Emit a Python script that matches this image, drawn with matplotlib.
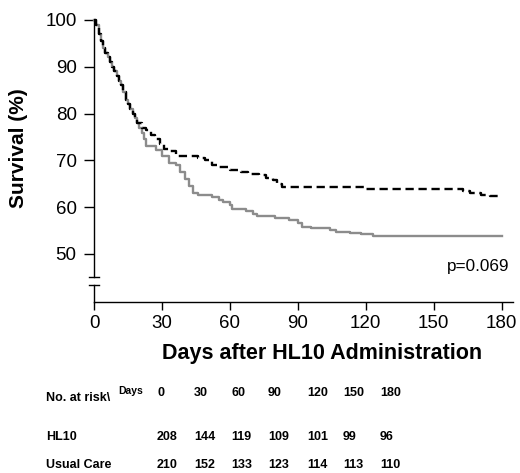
import matplotlib.pyplot as plt

plt.rcParams["font.family"] = ["Liberation Sans", "DejaVu Sans"]

# Kaplan-Meier step points (days, survival %)
hl10_days = [0, 1, 2, 3, 4, 5, 6, 7, 8, 9, 10, 11, 12, 13, 14, 15, 16, 17, 18, 19,
             21, 23, 25, 27, 29, 31, 33, 36, 46, 49, 52, 55, 60, 65, 68, 73, 76, 79,
             81, 83, 119, 163, 166, 171, 175, 180]
hl10_surv = [100, 99, 97, 95.5, 94, 93, 92, 91, 90, 89, 88, 87, 86, 84.5, 83, 82, 81, 80, 79, 78,
             77, 76.5, 75.5, 74.5, 73.5, 72.5, 72, 71, 70.5, 70, 69, 68.5, 68, 67.5, 67, 66.8, 66.3, 65.8,
             65, 64.3, 63.9, 63.4, 63, 62.6, 62.4, 62.4]

care_days = [0, 1, 2, 3, 4, 5, 6, 7, 8, 9, 10, 11, 12, 13, 14, 15, 16, 17, 18, 19,
             20, 21, 22, 23, 27.5, 30, 33, 36, 38, 40, 42, 43.5, 46, 52, 55, 57, 60, 61,
             67, 70, 72, 80, 86, 90, 92, 96, 104, 107, 113, 118, 123, 180]
care_surv = [100, 99, 97, 95.5, 94, 93, 92, 91, 90, 89, 88, 87, 86, 84.5, 83, 82, 81, 80, 79, 78,
             77, 75.8, 74.5, 73, 72.3, 71, 69.5, 69, 67.5, 66, 64.5, 63, 62.6, 62.2, 61.5, 61, 60.5, 59.6,
             59.2, 58.5, 58, 57.7, 57.3, 56.6, 55.8, 55.5, 55.1, 54.7, 54.5, 54.2, 53.9, 53.9]

x_ticks = [0, 30, 60, 90, 120, 150, 180]
y_ticks = [50, 60, 70, 80, 90, 100]

risk_days = ["0", "30", "60", "90", "120", "150", "180"]
risk_hl10 = [208, 144, 119, 109, 101, 99, 96]
risk_care = [210, 152, 133, 123, 114, 113, 110]

W, H = 520, 473
fig = plt.figure(figsize=(W / 100, H / 100), dpi=100)
ax = fig.add_axes([94 / W, (H - 302) / H, 419 / W, 282 / H])

ax.step(care_days, care_surv, where="post", color="#8c8c8c", lw=1.7, clip_on=False)
ax.step(hl10_days, hl10_surv, where="post", color="black", lw=1.7,
        linestyle=(0, (3.5, 2)), clip_on=False)

ax.set_xlim(0, 185)
ax.set_ylim(39.7, 100)
ax.set_xticks(x_ticks)
ax.set_yticks(y_ticks)
ax.tick_params(axis="both", labelsize=13.5, width=1, color="black")
ax.tick_params(axis="y", pad=5.5, length=7)
ax.tick_params(axis="x", pad=3.5, length=6)

for side in ["top", "right", "left"]:
    ax.spines[side].set_visible(False)
ax.spines["bottom"].set_linewidth(1)

# broken y axis
brk_hi, brk_lo = 45.1, 43.4
ax.plot([0, 0], [100, brk_hi], color="black", lw=1, clip_on=False)
ax.plot([0, 0], [brk_lo, 39.7], color="black", lw=1, clip_on=False)
for yb in (brk_hi, brk_lo):
    ax.plot([-2.4, 2.0], [yb, yb], color="black", lw=1, clip_on=False)

ax.text(183.5, 47.2, "p=0.069", ha="right", va="center", fontsize=12.3)

ax.set_ylabel("Survival (%)", fontsize=15, fontweight="bold")
ax.yaxis.label.set_va("center")
ax.yaxis.set_label_coords(-0.181, 0.546)
ax.set_xlabel("Days after HL10 Administration", fontsize=15.5, fontweight="bold")
ax.xaxis.label.set_va("center")
ax.xaxis.set_label_coords(0.544, -0.181)

# number at risk table
col_x = [157, 194, 231, 268, 307, 343, 380]
fs = 9
fig.text(46 / W, 1 - 398 / H, "No. at risk\\", fontsize=fs, fontweight="bold", va="center")
fig.text(118 / W, 1 - 391 / H, "Days", fontsize=7.5, fontweight="bold", va="center")
fig.text(46 / W, 1 - 437 / H, "HL10", fontsize=fs, fontweight="bold", va="center")
fig.text(46 / W, 1 - 465 / H, "Usual Care", fontsize=fs, fontweight="bold", va="center")
for cx, d, a, b in zip(col_x, risk_days, risk_hl10, risk_care):
    fig.text(cx / W, 1 - 393 / H, d, fontsize=fs, fontweight="bold", va="center")
    fig.text(cx / W, 1 - 437 / H, str(a), fontsize=fs, fontweight="bold", va="center")
    fig.text(cx / W, 1 - 465 / H, str(b), fontsize=fs, fontweight="bold", va="center")

fig.savefig("out.png", dpi=100)
